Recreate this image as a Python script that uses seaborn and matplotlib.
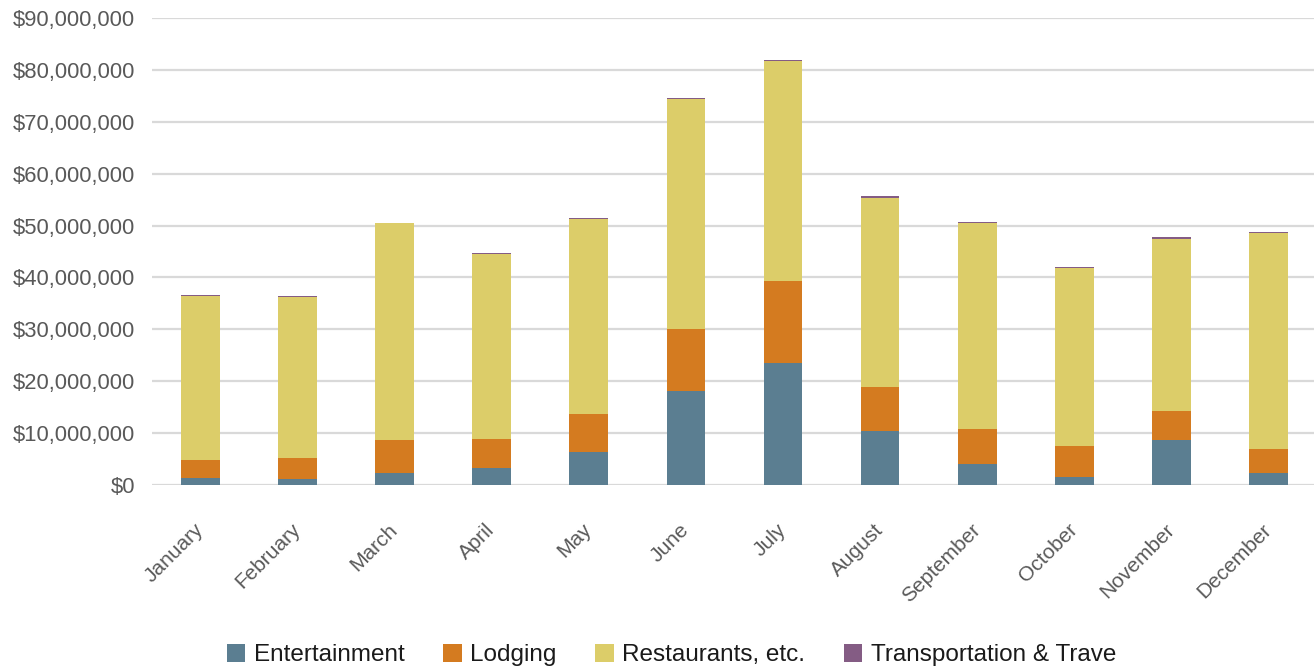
import matplotlib
matplotlib.use("Agg")
import matplotlib.pyplot as plt
from matplotlib.patches import Patch
from matplotlib.ticker import FuncFormatter, MultipleLocator
import numpy as np
import pandas as pd
import seaborn as sns

# Monthly spending by category (US dollars)
months = ["January", "February", "March", "April", "May", "June",
          "July", "August", "September", "October", "November", "December"]
entertainment = [1_350_000, 1_150_000, 2_300_000, 3_300_000, 6_400_000, 18_100_000,
                 23_500_000, 10_400_000, 4_100_000, 1_550_000, 8_700_000, 2_400_000]
lodging = [3_450_000, 4_050_000, 6_400_000, 5_600_000, 7_300_000, 11_900_000,
           15_900_000, 8_500_000, 6_700_000, 5_950_000, 5_600_000, 4_500_000]
restaurants = [31_600_000, 31_000_000, 41_800_000, 35_550_000, 37_500_000, 44_300_000,
               42_350_000, 36_500_000, 39_600_000, 34_400_000, 33_200_000, 41_600_000]
transportation = [200_000, 200_000, 50_000, 200_000, 200_000, 200_000,
                  200_000, 200_000, 200_000, 200_000, 200_000, 200_000]

series_names = ["Entertainment", "Lodging", "Restaurants, etc.", "Transportation & Trave"]
series_values = [entertainment, lodging, restaurants, transportation]
colors = ["#5B7E91", "#D47B20", "#DCCD69", "#845C84"]

df = pd.DataFrame({
    "month": np.repeat([months], len(series_names), axis=0).ravel(),
    "category": np.repeat(series_names, len(months)),
    "amount": np.concatenate(series_values),
})

sns.set_theme(style="white")
plt.rcParams["font.family"] = ["Liberation Sans", "DejaVu Sans"]

fig = plt.figure(figsize=(13.14, 6.68), dpi=100)
ax = fig.add_axes([152 / 1314, (668 - 485) / 668, (1314 - 152) / 1314, 467 / 668])

bottom = np.zeros(len(months))
for name, color in zip(series_names, colors):
    part = df[df["category"] == name]
    sns.barplot(data=part, x="month", y="amount", order=months, color=color,
                width=0.4, bottom=bottom, linewidth=0, saturation=1, ax=ax)
    bottom = bottom + part["amount"].to_numpy()

ax.set_ylim(0, 90_000_000)
ax.set_xlim(-0.5, 11.47)
ax.yaxis.set_major_locator(MultipleLocator(10_000_000))
ax.yaxis.set_major_formatter(FuncFormatter(lambda v, _: f"${v:,.0f}"))
ax.grid(axis="y", color="#D9D9D9", linewidth=1.6)
ax.set_axisbelow(True)
for s in ax.spines.values():
    s.set_visible(False)
ax.set_xlabel("")
ax.set_ylabel("")

ax.tick_params(axis="y", length=0, pad=12, labelsize=15.8, labelcolor="#595959")
ax.tick_params(axis="x", length=0, pad=30, labelsize=15, labelcolor="#595959")
for lbl in ax.get_xticklabels():
    lbl.set_rotation(45)
    lbl.set_ha("right")
    lbl.set_va("center")
    lbl.set_rotation_mode("anchor")

handles = [Patch(facecolor=c, edgecolor="none", label=n) for n, c in zip(series_names, colors)]
fig.legend(handles=handles, loc="center", bbox_to_anchor=(0.511, 13 / 668), ncol=4,
           frameon=False, fontsize=17.5, handlelength=0.75, handleheight=0.75,
           handletextpad=0.35, columnspacing=1.6, labelcolor="#1a1a1a")

fig.savefig("out.png", dpi=100)
